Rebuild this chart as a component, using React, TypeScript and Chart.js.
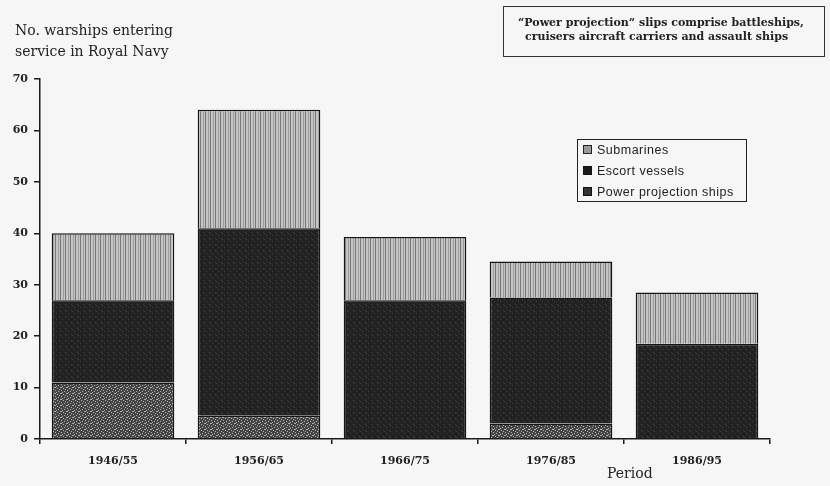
import React, { useEffect, useRef } from "react";
import { Chart, registerables } from "chart.js";
Chart.register(...registerables);

const periods = ["1946/55", "1956/65", "1966/75", "1976/85", "1986/95"];
const powerProjection = [11, 4.5, 0, 3, 0];
const escortVessels = [16, 36.5, 27, 24.5, 18.5];
const submarines = [13, 23, 12.3, 7, 10];
const yTicks = [0, 10, 20, 30, 40, 50, 60, 70];

function makePattern(kind: string): CanvasPattern | string {
  const c = document.createElement("canvas");
  const ctx = c.getContext("2d");
  if (!ctx) return "#888";
  if (kind === "stripes") {
    c.width = 5; c.height = 4;
    ctx.fillStyle = "#c4c4c4"; ctx.fillRect(0, 0, 5, 4);
    ctx.fillStyle = "#767676"; ctx.fillRect(0, 0, 1, 4);
    ctx.fillStyle = "#9e9e9e"; ctx.fillRect(3, 0, 1, 4);
  } else if (kind === "speckle") {
    c.width = 6; c.height = 6;
    ctx.fillStyle = "#444"; ctx.fillRect(0, 0, 6, 6);
    ctx.fillStyle = "#b0b0b0";
    ctx.fillRect(1, 0, 1, 1); ctx.fillRect(4, 1, 1, 1); ctx.fillRect(0, 3, 2, 1);
    ctx.fillRect(3, 4, 1, 1); ctx.fillRect(5, 5, 1, 1); ctx.fillRect(2, 2, 1, 1);
  } else {
    c.width = 6; c.height = 6;
    ctx.fillStyle = "#222"; ctx.fillRect(0, 0, 6, 6);
    ctx.fillStyle = "#414141";
    ctx.fillRect(2, 1, 1, 1); ctx.fillRect(5, 4, 1, 1); ctx.fillRect(0, 5, 1, 1);
  }
  return ctx.createPattern(c, "repeat") || "#888";
}

const serif = "'DejaVu Serif', 'Liberation Serif', serif";
const sans = "'Liberation Sans', Arial, sans-serif";

export default function App() {
  const ref = useRef<HTMLCanvasElement | null>(null);
  useEffect(() => {
    if (!ref.current) return;
    const chart = new Chart(ref.current, {
      type: "bar",
      data: {
        labels: periods,
        datasets: [
          { label: "Power projection ships", data: powerProjection, backgroundColor: makePattern("speckle") as any, borderColor: "#151515", borderWidth: 1.5, barPercentage: 0.84, categoryPercentage: 1 },
          { label: "Escort vessels", data: escortVessels, backgroundColor: makePattern("dark") as any, borderColor: "#151515", borderWidth: 1.5, barPercentage: 0.84, categoryPercentage: 1 },
          { label: "Submarines", data: submarines, backgroundColor: makePattern("stripes") as any, borderColor: "#151515", borderWidth: 1.5, barPercentage: 0.84, categoryPercentage: 1 },
        ],
      },
      options: {
        animation: false,
        responsive: false,
        layout: { padding: { top: 79, right: 60, left: 0, bottom: 0 } },
        plugins: { legend: { display: false }, tooltip: { enabled: false }, title: { display: false } },
        scales: {
          x: {
            stacked: true,
            grid: { display: true, drawOnChartArea: false, drawTicks: true, tickLength: 5, color: "#1a1a1a", lineWidth: 1.5, offset: true },
            border: { display: true, color: "#1a1a1a", width: 1.5 },
            ticks: { color: "#222", font: { family: serif, size: 11, weight: "bold" }, padding: 11 },
            afterFit: (s: any) => { s.height = 47; },
          },
          y: {
            stacked: true,
            min: 0,
            max: 70,
            afterBuildTicks: (s: any) => { s.ticks = yTicks.map((v) => ({ value: v })); },
            grid: { display: true, drawOnChartArea: false, drawTicks: true, tickLength: 6, color: "#1a1a1a", lineWidth: 1.5 },
            border: { display: true, color: "#1a1a1a", width: 1.5 },
            ticks: { color: "#222", font: { family: serif, size: 11, weight: "bold" }, padding: 6 },
            afterFit: (s: any) => { s.width = 40; },
          },
        },
      },
    });
    return () => chart.destroy();
  }, []);

  const sw = (bg: string, border: string) => ({
    display: "inline-block", width: 7, height: 7, background: bg, border: `1px solid ${border}`, marginRight: 5, verticalAlign: "middle" as const, position: "relative" as const, top: -1,
  });

  return (
    <div style={{ position: "absolute", left: 0, top: 0, width: 830, height: 486, background: "#f6f6f6", overflow: "hidden" }}>
      <canvas ref={ref} width={830} height={486} style={{ position: "absolute", left: 0, top: 0 }} />
      <div style={{ position: "absolute", left: 15, top: 20, fontFamily: serif, fontSize: 14, lineHeight: "21px", color: "#222", whiteSpace: "nowrap" }}>
        No. warships entering<br />service in Royal Navy
      </div>
      <div style={{ position: "absolute", left: 503, top: 6, width: 322, height: 51, border: "1.5px solid #333", boxSizing: "border-box" }}>
        <div style={{ position: "absolute", left: 14, top: 9, fontFamily: serif, fontWeight: "bold", fontSize: 11, lineHeight: "14px", color: "#222", whiteSpace: "nowrap" }}>
          “Power projection” slips comprise battleships,<br />
          <span style={{ paddingLeft: 7 }}>cruisers aircraft carriers and assault ships</span>
        </div>
      </div>
      <div style={{ position: "absolute", left: 577, top: 139, width: 170, height: 63, border: "1px solid #222", boxSizing: "border-box", fontFamily: sans, fontSize: 12.5, letterSpacing: 0.5, color: "#222" }}>
        <div style={{ position: "absolute", left: 5, top: 0, lineHeight: "21px", whiteSpace: "nowrap" }}>
          <div><span style={sw("#9a9a9a", "#222")} />Submarines</div>
          <div><span style={sw("#1a1a1a", "#111")} />Escort vessels</div>
          <div><span style={sw("#333", "#111")} />Power projection ships</div>
        </div>
      </div>
      <div style={{ position: "absolute", left: 607, top: 465, fontFamily: serif, fontSize: 14, color: "#222" }}>Period</div>
    </div>
  );
}
